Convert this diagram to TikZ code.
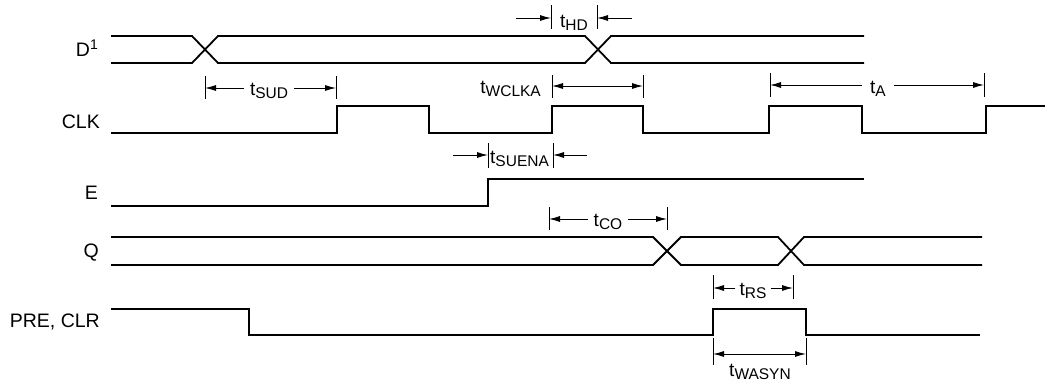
\documentclass[tikz,border=0pt]{standalone}
\usepackage{fontspec}
\setmainfont{Liberation Sans}
\usetikzlibrary{arrows.meta}
\newcommand{\tsb}[1]{t\raisebox{-3.5pt}{\fontsize{15.5}{15.5}\selectfont #1}}
\begin{document}
\begin{tikzpicture}[x=1pt,y=-1pt,
  wave/.style={line width=1.8pt, line join=miter},
  tickline/.style={line width=0.9pt},
  arr/.style={line width=0.9pt,-{Latex[length=11pt,width=6pt]}},
  arrb/.style={line width=0.9pt,{Latex[length=11pt,width=6pt]}-{Latex[length=11pt,width=6pt]}},
  sig/.style={anchor=base east, inner sep=0pt, font=\fontsize{19.5}{19.5}\selectfont},
  tl/.style={inner sep=0pt, font=\fontsize{19}{19}\selectfont}]
\useasboundingbox (0,0) rectangle (1045,384);

% signal names
\node[sig] (nD) at (98,56) {D\raisebox{7pt}{\fontsize{14}{14}\selectfont 1}};
\node[sig] (nCLK) at (100,128) {CLK};
\node[sig] (nE) at (98,199) {E};
\node[sig] (nQ) at (99,257) {Q};
\node[sig] (nPRE) at (100,327) {PRE, CLR};

% D
\draw[wave] (111,36) -- (192,36) -- (218,63) -- (585,63) -- (611,36) -- (864,36);
\draw[wave] (111,63) -- (192,63) -- (218,36) -- (585,36) -- (611,63) -- (864,63);
% CLK
\draw[wave] (111,133) -- (337,133) -- (337,106) -- (429,106) -- (429,133) -- (552,133) -- (552,106) -- (643,106) -- (643,133) -- (769,133) -- (769,106) -- (862,106) -- (862,133) -- (986,133) -- (986,106) -- (1045,106);
% E
\draw[wave] (111,206) -- (488,206) -- (488,179) -- (864,179);
% Q
\draw[wave] (111,237) -- (653,237) -- (681,265) -- (778,265) -- (804,237) -- (982,237);
\draw[wave] (111,265) -- (653,265) -- (681,237) -- (778,237) -- (804,265) -- (982,265);
% PRE, CLR
\draw[wave] (111,309) -- (249,309) -- (249,335) -- (713,335) -- (713,309) -- (806,309) -- (806,335) -- (980,335);

% t_HD
\coordinate (hd1) at (551,18);
\coordinate (hd2) at (597,18);
\draw[tickline] (551,5) -- (551,29) (597,5) -- (597,29);
\node[tl, anchor=base] (tHD) at (574,27) {\tsb{HD}};
\coordinate (hdL) at (516,18);
\coordinate (hdR) at (632,18);
\draw[arr] (hdL) -- (hd1);
\draw[arr] (hdR) -- (hd2);

% t_SUD
\coordinate (sud1) at (205,88);
\coordinate (sud2) at (336,88);
\draw[tickline] (205,76) -- (205,99) (336,76) -- (336,99);
\node[tl, anchor=base, inner xsep=6pt] (tSUD) at (269,95) {\tsb{SUD}};
\draw[arr] (tSUD.west |- sud1) -- (sud1);
\draw[arr] (tSUD.east |- sud2) -- (sud2);

% t_WCLKA
\coordinate (wc1) at (552,86);
\coordinate (wc2) at (643,86);
\draw[tickline] (552,75) -- (552,98) (643,75) -- (643,98);
\node[tl, anchor=base east] (tWCLKA) at (541,93) {\tsb{WCLKA}};
\draw[arrb] (wc1) -- (wc2);

% t_A
\coordinate (ta1) at (770,85);
\coordinate (ta2) at (984,85);
\draw[tickline] (770,73) -- (770,97) (984,73) -- (984,97);
\node[tl, anchor=base, inner xsep=8pt] (tA) at (878,93) {\tsb{A}};
\draw[arr] (tA.west |- ta1) -- (ta1);
\draw[arr] (tA.east |- ta2) -- (ta2);

% t_SUENA
\coordinate (se1) at (488,155);
\coordinate (se2) at (553,155);
\draw[tickline] (488,143) -- (488,168) (553,143) -- (553,168);
\node[tl, anchor=base west] (tSUENA) at (490,163) {\tsb{SUENA}};
\coordinate (seL) at (453,155);
\coordinate (seR) at (587,155);
\draw[arr] (seL) -- (se1);
\draw[arr] (seR) -- (se2);

% t_CO
\coordinate (co1) at (549,219);
\coordinate (co2) at (667,219);
\draw[tickline] (549,207) -- (549,230) (667,207) -- (667,230);
\node[tl, anchor=base, inner xsep=6pt] (tCO) at (608,226) {\tsb{CO}};
\draw[arr] (tCO.west |- co1) -- (co1);
\draw[arr] (tCO.east |- co2) -- (co2);

% t_RS
\coordinate (rs1) at (713,288);
\coordinate (rs2) at (793,288);
\draw[tickline] (713,275) -- (713,299) (793,275) -- (793,299);
\node[tl, anchor=base, inner xsep=4pt] (tRS) at (753,295) {\tsb{RS}};
\draw[arr] (tRS.west |- rs1) -- (rs1);
\draw[arr] (tRS.east |- rs2) -- (rs2);

% t_WASYN
\coordinate (wa1) at (713,354);
\coordinate (wa2) at (806,354);
\draw[tickline] (713,338) -- (713,365) (806,338) -- (806,365);
\draw[arrb] (wa1) -- (wa2);
\node[tl, anchor=base] (tWASYN) at (760,376) {\tsb{WASYN}};
\end{tikzpicture}
\end{document}
